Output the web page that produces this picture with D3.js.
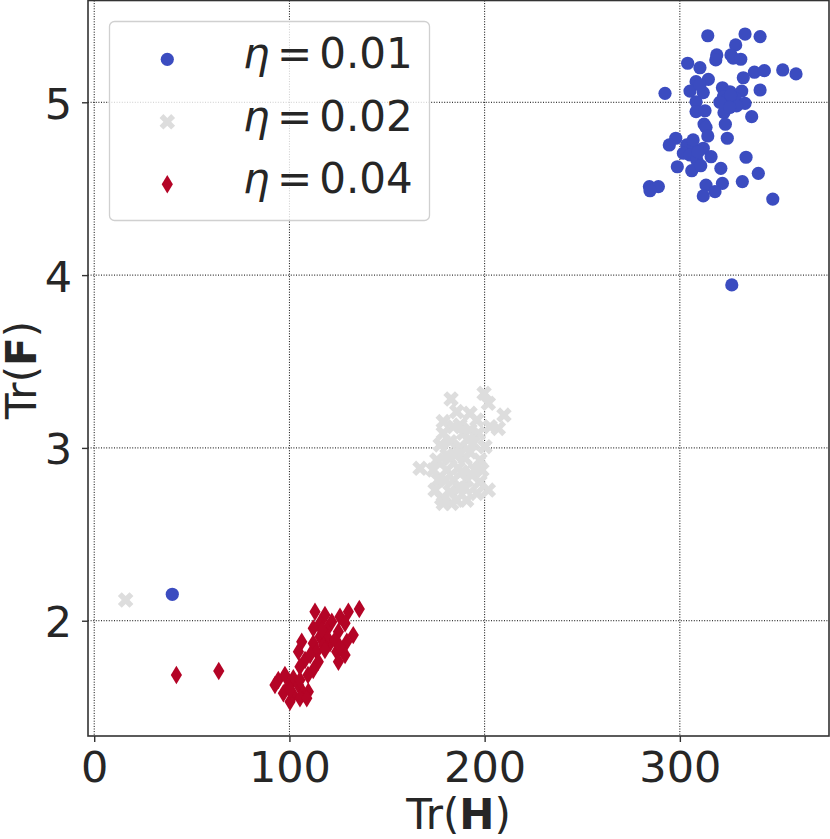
<!DOCTYPE html>
<html>
<head>
<meta charset="utf-8">
<script src="https://cdn.jsdelivr.net/npm/d3@7"></script>
<style>
  body { margin: 0; background: #fff; }
  svg { display: block; font-family: "DejaVu Sans", sans-serif; }
</style>
</head>
<body>
<svg id="chart"></svg>
<script>
const width = 830,
  height = 839;

// eta = 0.01 : [Tr(H), Tr(F)]
const eta001 = [
  [314.3, 5.385], [333.4, 5.395], [341.1, 5.380], [328.6, 5.332], [318.9, 5.274],
  [318.4, 5.245], [326.2, 5.274], [327.3, 5.256], [331.2, 5.249], [304.0, 5.226],
  [310.3, 5.200], [338.2, 5.174], [343.3, 5.183], [352.7, 5.187], [359.5, 5.164],
  [332.5, 5.142], [314.6, 5.133], [308.3, 5.119], [292.4, 5.052], [305.2, 5.065],
  [312.0, 5.056], [310.3, 5.100], [321.8, 5.084], [325.7, 5.061], [331.7, 5.065],
  [341.1, 5.071], [322.3, 5.032], [324.0, 5.013], [328.3, 5.023], [333.4, 4.994],
  [329.1, 4.979], [308.3, 5.003], [308.3, 4.946], [312.9, 4.951], [322.6, 4.940],
  [336.8, 4.917], [312.4, 4.874], [313.4, 4.855], [323.3, 4.873], [314.3, 4.805],
  [324.3, 4.792], [297.9, 4.792], [294.6, 4.753], [303.5, 4.753], [306.9, 4.734],
  [312.0, 4.734], [301.8, 4.705], [305.2, 4.695], [316.0, 4.685], [333.9, 4.682],
  [308.7, 4.666], [298.7, 4.627], [306.1, 4.604], [310.7, 4.633], [321.0, 4.618],
  [340.2, 4.589], [332.0, 4.541], [284.4, 4.512], [289.0, 4.512], [284.7, 4.488],
  [313.4, 4.521], [321.8, 4.531], [318.0, 4.483], [312.0, 4.458], [347.6, 4.440],
  [326.6, 3.943], [40.0, 2.153], [306.8, 4.782], [309.3, 4.712], [326.0, 5.040],
  [320.5, 5.000], [325.5, 4.970]
];

// eta = 0.02
const eta002 = [
  [182.8, 3.283], [199.7, 3.316], [201.9, 3.258], [209.9, 3.190], [185.7, 3.210],
  [192.5, 3.200], [178.8, 3.152], [184.0, 3.123], [196.0, 3.161], [202.8, 3.123],
  [207.0, 3.113], [178.8, 3.085], [189.1, 3.085], [196.8, 3.085], [182.3, 3.036],
  [187.4, 3.007], [194.2, 3.027], [200.2, 3.007], [175.5, 2.930], [182.3, 2.940],
  [190.0, 2.940], [197.6, 2.930], [166.9, 2.882], [173.7, 2.872], [180.6, 2.872],
  [188.3, 2.862], [195.1, 2.872], [176.3, 2.814], [184.0, 2.814], [190.8, 2.814],
  [197.6, 2.804], [201.9, 2.756], [174.6, 2.756], [182.3, 2.747], [190.0, 2.766],
  [196.0, 2.737], [178.0, 2.708], [185.7, 2.698], [190.8, 2.698], [183.1, 2.679],
  [178.8, 2.679], [16.1, 2.120], [187.4, 3.132], [192.5, 3.104], [184.8, 2.959],
  [192.5, 2.976], [179.7, 2.814], [187.4, 2.768], [193.5, 2.843], [186.4, 2.884],
  [177.2, 3.017], [191.5, 3.046], [180.7, 2.959], [198.6, 2.872]
];

// eta = 0.04
const eta004 = [
  [42.1, 1.686], [63.8, 1.709], [135.8, 2.068], [113.1, 2.052], [118.2, 2.033],
  [130.2, 2.052], [125.9, 2.023], [121.7, 1.994], [115.7, 1.985], [128.5, 1.985],
  [112.2, 1.956], [119.1, 1.946], [125.1, 1.936], [132.7, 1.917], [129.4, 1.878],
  [115.7, 1.907], [106.3, 1.878], [112.2, 1.869], [120.8, 1.869], [104.6, 1.821],
  [114.0, 1.821], [124.2, 1.821], [128.5, 1.802], [108.0, 1.773], [114.8, 1.763],
  [125.1, 1.763], [105.4, 1.734], [112.2, 1.715], [94.3, 1.657], [97.7, 1.686],
  [102.0, 1.667], [92.6, 1.628], [99.4, 1.618], [104.6, 1.628], [96.9, 1.580],
  [102.0, 1.570], [107.1, 1.580], [109.7, 1.589], [100.3, 1.531], [105.4, 1.551],
  [108.9, 1.551], [119.1, 1.907], [117.4, 1.859], [116.7, 1.946], [123.3, 1.889],
  [110.6, 1.802], [118.2, 1.831], [105.4, 1.657], [100.3, 1.599], [125.9, 1.849],
  [109.5, 1.686]
];

const seriesLabels = ["0.01", "0.02", "0.04"];
const xTicks = [0, 100, 200, 300];
const yTicks = [2, 3, 4, 5];

const colors = ["#3b4cc0", "#dddddd", "#b40426"];
const textColor = "#262626";

const svg = d3.select("#chart").attr("width", width).attr("height", height);

const x = d3.scaleLinear().domain([-3.18, 376.4]).range([88, 829]);
const y = d3.scaleLinear().domain([1.333, 5.589]).range([736, 0.5]);

// marker shapes
const r = 6.6;
const circlePath = d3.symbol(d3.symbolCircle, Math.PI * r * r)();
// filled X (rotated plus), extent about 15px
const xs = 16.5;
const plus = [[-1, -3], [1, -3], [1, -1], [3, -1], [3, 1], [1, 1], [1, 3], [-1, 3], [-1, 1], [-3, 1], [-3, -1], [-1, -1]];
const xPath = "M" + plus.map(([a, b]) => {
  const u = (a * xs) / 6, v = (b * xs) / 6;
  return [((u - v) / Math.SQRT2).toFixed(2), ((u + v) / Math.SQRT2).toFixed(2)].join(",");
}).join("L") + "Z";
// thin diamond
const dh = 9.2, dw = 5.6;
const diamondPath = `M0,${-dh}L${dw},0L0,${dh}L${-dw},0Z`;
const shapes = [circlePath, xPath, diamondPath];

// grid (dotted)
const grid = svg.append("g").attr("stroke", "#000").attr("stroke-width", 1).attr("stroke-dasharray", "1,1.6");
grid.selectAll(".gx").data(xTicks).join("line")
  .attr("x1", (d) => x(d)).attr("x2", (d) => x(d))
  .attr("y1", y.range()[1]).attr("y2", y.range()[0]);
grid.selectAll(".gy").data(yTicks).join("line")
  .attr("x1", x.range()[0]).attr("x2", x.range()[1])
  .attr("y1", (d) => y(d)).attr("y2", (d) => y(d));

// points
[eta001, eta002, eta004].forEach((data, i) => {
  svg.append("g").selectAll("path").data(data).join("path")
    .attr("d", shapes[i])
    .attr("transform", (d) => `translate(${x(d[0])},${y(d[1])})`)
    .attr("fill", colors[i]);
});

// spines
svg.append("rect")
  .attr("x", x.range()[0]).attr("y", y.range()[1])
  .attr("width", x.range()[1] - x.range()[0])
  .attr("height", y.range()[0] - y.range()[1])
  .attr("fill", "none").attr("stroke", "#333").attr("stroke-width", 1.6);

// axes
const xAxis = svg.append("g").attr("transform", `translate(0,${y.range()[0]})`)
  .call(d3.axisBottom(x).tickValues(xTicks).tickFormat(d3.format("d")).tickSize(6).tickPadding(9));
const yAxis = svg.append("g").attr("transform", `translate(${x.range()[0]},0)`)
  .call(d3.axisLeft(y).tickValues(yTicks).tickFormat(d3.format("d")).tickSize(6).tickPadding(10));
[xAxis, yAxis].forEach((g) => {
  g.select(".domain").remove();
  g.selectAll(".tick line").attr("stroke", "#333").attr("stroke-width", 1.4);
  g.selectAll(".tick text").attr("fill", textColor)
    .style("font-size", "43px").style("font-family", "DejaVu Sans");
});
yAxis.selectAll(".tick text").attr("dy", "0.37em");

// axis labels
const xl = svg.append("text")
  .attr("x", (x.range()[0] + x.range()[1]) / 2).attr("y", 829)
  .attr("text-anchor", "middle").attr("fill", textColor).style("font-size", "42px");
xl.append("tspan").text("Tr(");
xl.append("tspan").attr("font-weight", "bold").text("H");
xl.append("tspan").text(")");

const yl = svg.append("text")
  .attr("transform", "translate(36,370) rotate(-90)")
  .attr("text-anchor", "middle").attr("fill", textColor).style("font-size", "42px");
yl.append("tspan").text("Tr(");
yl.append("tspan").attr("font-weight", "bold").text("F");
yl.append("tspan").text(")");

// legend
const legend = svg.append("g");
legend.append("rect")
  .attr("x", 109.5).attr("y", 21.5).attr("width", 320).attr("height", 199)
  .attr("rx", 5).attr("fill", "#fff").attr("fill-opacity", 0.8)
  .attr("stroke", "#d0d0d0").attr("stroke-width", 1.3);
seriesLabels.forEach((lab, i) => {
  const cy = 59.3 + i * 62.5;
  legend.append("path").attr("d", shapes[i])
    .attr("transform", `translate(167.3,${cy})`).attr("fill", colors[i]);
  const by = cy + 9;
  legend.append("text").attr("x", 243).attr("y", by)
    .attr("fill", textColor).style("font-size", "42px").style("font-style", "italic").text("η");
  legend.append("text").attr("x", 294.5).attr("y", by).attr("text-anchor", "middle")
    .attr("fill", textColor).style("font-size", "42px").text("=");
  legend.append("text").attr("x", 319.2).attr("y", by)
    .attr("fill", textColor).style("font-size", "42px").text(lab);
});
</script>
</body>
</html>
